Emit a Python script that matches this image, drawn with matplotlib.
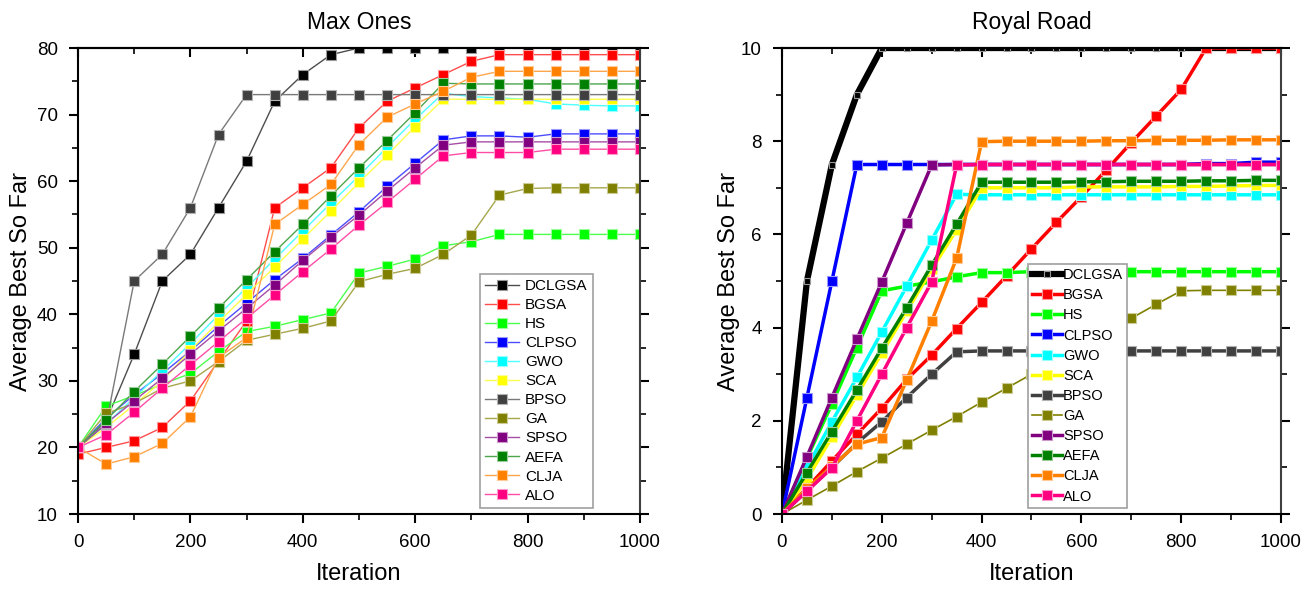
import numpy as np
import matplotlib
matplotlib.use('Agg')
import matplotlib.pyplot as plt
from matplotlib.ticker import MultipleLocator
import matplotlib.colors as mcolors

plt.rcParams['font.family'] = ['Liberation Sans', 'DejaVu Sans']

it = np.arange(0, 1001, 50)

names = ['DCLGSA', 'BGSA', 'HS', 'CLPSO', 'GWO', 'SCA', 'BPSO', 'GA', 'SPSO', 'AEFA', 'CLJA', 'ALO']
colores = ['#000000', '#ff0000', '#00ff00', '#0000ff', '#00ffff', '#ffff00',
           '#404040', '#808000', '#800080', '#008000', '#ff8000', '#ff0080']

# Max Ones
max_ones = {
    'DCLGSA': [20, 24, 34, 45, 49, 56, 63, 72, 76, 79, 80, 80, 80, 80, 80, 80, 80, 80, 80, 80, 80],
    'BGSA':   [19, 20, 21, 23, 27, 33, 39, 56, 59, 62, 68, 72, 74, 76, 78, 79, 79, 79, 79, 79, 79],
    'HS':     [20, 26.2, 27.8, 29.5, 31.1, 34.4, 37.4, 38.2, 39.2, 40.2, 46.2, 47.2, 48.3, 50.3, 50.9, 52, 52, 52, 52, 52, 52],
    'CLPSO':  [20, 24.4, 27.9, 31.1, 34.5, 38.2, 41.7, 45.2, 48.4, 51.9, 55.4, 59.2, 62.7, 66.2, 66.8, 66.8, 66.6, 67.1, 67.1, 67.1, 67.1],
    'GWO':    [20, 23.5, 27.5, 31.5, 35.6, 39.9, 44, 48.3, 52.5, 56.7, 60.8, 65.1, 69.3, 73.2, 72.7, 72.5, 72.3, 71.6, 71.4, 71.3, 71.3],
    'SCA':    [20, 23, 26.4, 30, 34.6, 38.8, 43, 47.1, 51.3, 55.5, 59.8, 63.9, 68.2, 72.3, 72.3, 72.3, 72.3, 72.3, 72.3, 72.3, 72.3],
    'BPSO':   [20, 23.5, 45, 49, 56, 67, 73, 73, 73, 73, 73, 73, 73, 73, 73, 73, 73, 73, 73, 73, 73],
    'GA':     [20, 25.1, 26.6, 28.9, 30, 32.9, 36.1, 37, 37.9, 39, 44.9, 46, 46.9, 49, 51.9, 57.9, 58.9, 59, 59, 59, 59],
    'SPSO':   [20, 23.6, 27, 30.4, 34, 37.5, 40.9, 44.4, 48.1, 51.6, 54.9, 58.5, 62, 65.4, 65.9, 65.9, 65.9, 65.9, 65.9, 65.9, 65.9],
    'AEFA':   [20, 24.1, 28.4, 32.5, 36.7, 40.9, 45.2, 49.4, 53.5, 57.8, 62, 66.1, 70.3, 74.7, 74.6, 74.6, 74.6, 74.6, 74.6, 74.6, 74.6],
    'CLJA':   [20, 17.5, 18.6, 20.6, 24.6, 33.5, 36.5, 53.5, 56.5, 59.5, 65.5, 69.6, 71.6, 73.5, 75.6, 76.5, 76.5, 76.5, 76.5, 76.5, 76.5],
    'ALO':    [20, 21.9, 25.3, 28.9, 32.4, 35.9, 39.4, 42.9, 46.4, 49.8, 53.4, 56.8, 60.3, 63.8, 64.3, 64.3, 64.3, 64.8, 64.8, 64.8, 64.8],
}

# Royal Road
royal = {
    'DCLGSA': [0, 5, 7.5, 9, 10, 10, 10, 10, 10, 10, 10, 10, 10, 10, 10, 10, 10, 10, 10, 10, 10],
    'BGSA':   [0, 0.56, 1.14, 1.71, 2.27, 2.89, 3.41, 3.98, 4.54, 5.11, 5.69, 6.26, 6.81, 7.38, 7.97, 8.54, 9.11, 10, 10, 10, 10],
    'HS':     [0, 1.2, 2.36, 3.57, 4.79, 4.89, 4.98, 5.09, 5.18, 5.18, 5.2, 5.2, 5.2, 5.2, 5.2, 5.2, 5.2, 5.2, 5.2, 5.2, 5.2],
    'CLPSO':  [0, 2.5, 5, 7.5, 7.5, 7.5, 7.5, 7.5, 7.5, 7.5, 7.5, 7.5, 7.5, 7.5, 7.5, 7.5, 7.5, 7.52, 7.52, 7.55, 7.55],
    'GWO':    [0, 1.0, 1.98, 2.93, 3.91, 4.89, 5.88, 6.86, 6.85, 6.85, 6.85, 6.85, 6.85, 6.85, 6.85, 6.85, 6.85, 6.85, 6.85, 6.85, 6.85],
    'SCA':    [0, 0.75, 1.65, 2.55, 3.45, 4.35, 5.25, 6.1, 7.0, 7.0, 7.0, 7.0, 7.02, 7.02, 7.02, 7.02, 7.03, 7.03, 7.04, 7.05, 7.05],
    'BPSO':   [0, 0.5, 1.0, 1.52, 1.98, 2.5, 3.0, 3.48, 3.5, 3.5, 3.5, 3.5, 3.5, 3.5, 3.5, 3.5, 3.5, 3.5, 3.5, 3.5, 3.5],
    'GA':     [0, 0.3, 0.6, 0.91, 1.2, 1.5, 1.8, 2.09, 2.4, 2.7, 3.0, 3.3, 3.6, 3.9, 4.2, 4.5, 4.79, 4.8, 4.8, 4.8, 4.8],
    'SPSO':   [0, 1.23, 2.5, 3.75, 4.98, 6.24, 7.49, 7.5, 7.5, 7.5, 7.5, 7.5, 7.5, 7.5, 7.5, 7.5, 7.5, 7.5, 7.5, 7.5, 7.5],
    'AEFA':   [0, 0.89, 1.77, 2.66, 3.56, 4.43, 5.34, 6.22, 7.12, 7.12, 7.12, 7.12, 7.13, 7.13, 7.14, 7.14, 7.14, 7.15, 7.15, 7.16, 7.16],
    'CLJA':   [0, 0.55, 1.02, 1.5, 1.64, 2.88, 4.14, 5.49, 7.99, 8.0, 8.0, 8.0, 8.0, 8.01, 8.01, 8.02, 8.02, 8.02, 8.03, 8.03, 8.03],
    'ALO':    [0, 0.49, 0.99, 2.0, 3.0, 4.0, 4.98, 7.49, 7.5, 7.5, 7.5, 7.5, 7.5, 7.5, 7.5, 7.5, 7.5, 7.5, 7.5, 7.5, 7.5],
}


def aclarar(c, f=0.45):
    r, g, b = mcolors.to_rgb(c)
    return (r + (1 - r) * f, g + (1 - g) * f, b + (1 - b) * f)


def estilo_ejes(ax, xmin, xmay, ymin, ymay, xlab, ylab):
    ax.xaxis.set_major_locator(MultipleLocator(xmay))
    ax.xaxis.set_minor_locator(MultipleLocator(xmin))
    ax.yaxis.set_major_locator(MultipleLocator(ymay))
    ax.yaxis.set_minor_locator(MultipleLocator(ymin))
    ax.tick_params(which='both', direction='out', top=False, right=True, labelsize=13.5)
    ax.tick_params(which='major', length=6.5, width=1.5, pad=8)
    ax.tick_params(which='minor', length=4, width=1.2)
    for s in ax.spines.values():
        s.set_linewidth(1.5)
    ax.spines['right'].set_color('#404040')
    # ticks de arriba hacia adentro
    arriba = ax.secondary_xaxis('top')
    arriba.xaxis.set_major_locator(MultipleLocator(xmay))
    arriba.xaxis.set_minor_locator(MultipleLocator(xmin))
    arriba.tick_params(which='both', direction='in', labeltop=False)
    arriba.tick_params(which='major', length=6.5, width=1.5)
    arriba.tick_params(which='minor', length=4, width=1.2)
    arriba.spines['top'].set_linewidth(1.5)
    ax.set_xlabel('Iteration', fontsize=17)
    ax.set_ylabel('Average Best So Far', fontsize=17)
    ax.xaxis.set_label_coords(0.5, xlab)
    ax.yaxis.set_label_coords(ylab, 0.5)


fig = plt.figure(figsize=(13.09, 5.89), dpi=100)
ax1 = fig.add_axes([0.0596, 0.1273, 0.4293, 0.7912])
ax2 = fig.add_axes([0.5974, 0.1273, 0.3812, 0.7912])

for n, c in zip(names, colores):
    ax1.plot(it, max_ones[n], '-', color=aclarar(c, 0.3), lw=1.0, marker='s', ms=7,
             mfc=c, mec=aclarar(c, 0.6), mew=0.8, label=n)
ax1.set_xlim(0, 1000)
ax1.set_ylim(10, 80)
ax1.set_title('Max Ones', fontsize=16.5, pad=14)
estilo_ejes(ax1, 100, 200, 5, 10, -0.106, -0.082)
leg1 = ax1.legend(loc='lower right', bbox_to_anchor=(0.916, 0.013), fontsize=11, fancybox=False,
                  edgecolor='#a0a0a0', handlelength=2.2, labelspacing=0.33, borderpad=0.35,
                  handletextpad=0.4, borderaxespad=0.0, framealpha=1)
leg1.get_frame().set_linewidth(1.2)

for n, c in zip(names, colores):
    if n == 'DCLGSA':
        lw, ms = 4.5, 5
    elif n == 'GA':
        lw, ms = 1.2, 7
    else:
        lw, ms = 2.5, 7
    ax2.plot(it, royal[n], '-', color=c, lw=lw, marker='s', ms=ms,
             mfc=c, mec=aclarar(c, 0.6), mew=0.8, label=n)
ax2.set_xlim(0, 1000)
ax2.set_ylim(0, 10)
ax2.set_title('Royal Road', fontsize=16.5, pad=14)
estilo_ejes(ax2, 100, 200, 1, 2, -0.106, -0.084)
leg2 = ax2.legend(loc='lower left', bbox_to_anchor=(0.493, 0.013), fontsize=10.5, fancybox=False,
                  edgecolor='#a0a0a0', handlelength=2.0, labelspacing=0.42, borderpad=0.3,
                  handletextpad=0.1, borderaxespad=0.0, framealpha=1)
leg2.get_frame().set_linewidth(1.2)

plt.savefig('out.png', dpi=100)
